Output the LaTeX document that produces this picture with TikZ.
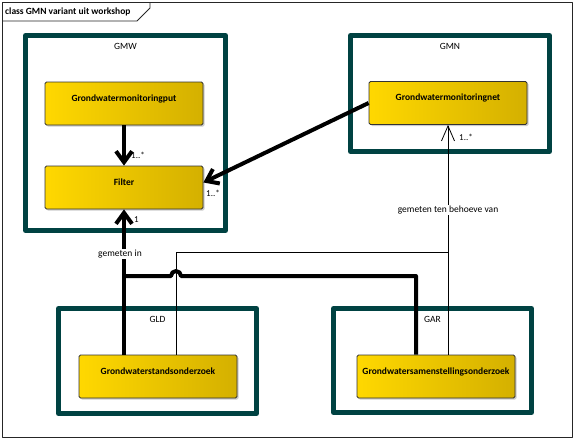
\documentclass[tikz,border=0pt]{standalone}
\usepackage{fontspec}
\setmainfont{Carlito}
\usetikzlibrary{arrows.meta,shadows}
\definecolor{pkgteal}{RGB}{0,66,66}
\definecolor{goldleft}{RGB}{255,216,0}
\definecolor{goldright}{RGB}{212,176,0}
\tikzset{
  cls/.style={draw=black!80,line width=0.8pt,rounded corners=1.5pt,
    left color=goldleft,right color=goldright,
    drop shadow={shadow xshift=1.5pt,shadow yshift=-1.5pt,fill=black,opacity=0.2},
    minimum width=158pt,minimum height=43pt,text height=7pt,text depth=12pt,
    font=\fontsize{9.5}{11}\selectfont\bfseries},
  pkg/.style={pkgteal,line width=5pt},
  pkglabel/.style={font=\fontsize{9.5}{11}\selectfont},
  mult/.style={font=\fontsize{9}{10}\selectfont,inner sep=1pt},
  role/.style={font=\fontsize{9.5}{11}\selectfont,inner sep=1pt},
  thickline/.style={line width=4pt},
  assoc/.style={thickline,-{Straight Barb[length=11pt,width=16pt]}},
  thinline/.style={line width=0.8pt},
  thinassoc/.style={thinline,-{Straight Barb[length=15pt,width=13pt]}}
}
\begin{document}
\begin{tikzpicture}[x=1pt,y=-1pt,line join=round]
  \useasboundingbox (0,0) rectangle (574,439);
  \draw[black!85,line width=0.8pt] (2,2) rectangle (572,437);
  \draw[black!85,line width=0.8pt] (2,21) -- (137,21) -- (150,8) -- (150,2);
  \node[anchor=west,inner sep=0pt,font=\fontsize{9.5}{11}\selectfont\bfseries] (title) at (5,12) {class GMN variant uit workshop};

  \foreach \xa/\ya/\xb/\yb/\lbl in {25.5/35.5/225.5/230.5/GMW,350.5/35.5/549.5/151.5/GMN,
      58.5/308.5/256.5/413.5/GLD,333.5/308.5/531.5/412.5/GAR}{
    \draw[pkg] (\xa,\ya) rectangle (\xb,\yb);
    \node[pkglabel] (\lbl) at ({(\xa+\xb)/2},{\ya+10.5}) {\lbl};
  }

  \node[cls] (put) at (124,103.5) {Grondwatermonitoringput};
  \node[cls] (filter) at (124,187.5) {Filter};
  \node[cls] (net) at (448,103) {Grondwatermonitoringnet};
  \node[cls] (stand) at (158,376.5) {Grondwaterstandsonderzoek};
  \node[cls] (samen) at (436,376.5) {Grondwatersamenstellingsonderzoek};

  \coordinate (gemj) at (124,276);
  \coordinate (tbv) at (448,252);

  \draw[assoc] (put) -- (filter);
  \draw[assoc] (net.west) -- ([yshift=5pt]filter.east);
  \draw[thinline] ([xshift=18pt]stand.north) |- (tbv);
  \draw[thickline] ([xshift=-20pt]samen.north) |- (181,276)
    arc[start angle=0,end angle=180,radius=5pt] -- (gemj);
  \draw[assoc] (stand.north -| filter) -- (filter);
  \draw[thinassoc] ([xshift=12pt]samen.north) -- (net.south);

  \node[mult,anchor=west] (mputfilter) at (130,155) {1..*};
  \node[mult,anchor=west,fill=white] (mnetfilter) at (205,193) {1..*};
  \node[mult,anchor=west] (mstand) at (133,220) {1};
  \node[mult,anchor=west] (mnet) at (458,137) {1..*};
  \node[role,fill=white] (gemin) at (120,254) {gemeten in};
  \node[role,fill=white] (tbvlbl) at (448,210) {gemeten ten behoeve van};
\end{tikzpicture}
\end{document}
